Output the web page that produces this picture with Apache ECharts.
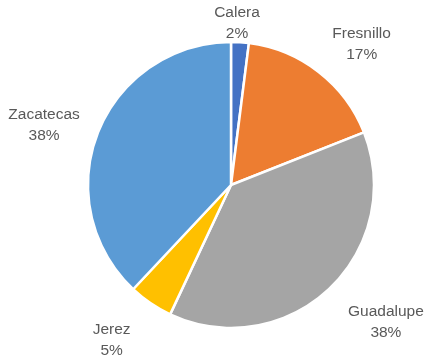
<!DOCTYPE html>
<html>
<head>
<meta charset="utf-8">
<script src="https://cdn.jsdelivr.net/npm/echarts@6/dist/echarts.min.js"></script>
<style>
  html, body { margin: 0; padding: 0; background: #ffffff; }
  #chart { width: 426px; height: 364px; }
</style>
</head>
<body>
<div id="chart"></div>
<script>
// Share of each municipality, in percent
const categories = ['Calera', 'Fresnillo', 'Guadalupe', 'Jerez', 'Zacatecas'];
const shares = [2, 17, 38, 5, 38];

// Slice colours (Office palette)
const sliceColors = ['#4472C4', '#ED7D31', '#A5A5A5', '#FFC000', '#5B9BD5'];

// Label nudges from the slice's outer edge point, in pixels
const labelNudge = [[-3, -19], [43, -28], [57, 33], [-39, 37], [-54, -7]];

const chart = echarts.init(document.getElementById('chart'), null, { renderer: 'canvas' });

chart.setOption({
  animation: false,
  backgroundColor: '#ffffff',
  series: [{
    type: 'pie',
    center: [231, 185],
    radius: [0, 143],
    startAngle: 90,
    clockwise: true,
    avoidLabelOverlap: false,
    data: categories.map((name, i) => ({
      name: name,
      value: shares[i],
      itemStyle: { color: sliceColors[i] }
    })),
    itemStyle: { borderColor: '#ffffff', borderWidth: 2.5 },
    label: {
      show: true,
      position: 'outside',
      formatter: p => p.name + '\n' + p.value + '%',
      fontFamily: 'Liberation Sans',
      fontSize: 15.5,
      lineHeight: 21,
      color: '#595959',
      align: 'center'
    },
    labelLine: { show: false, length: 0, length2: 0 },
    labelLayout: function (params) {
      const p0 = params.labelLinePoints ? params.labelLinePoints[0] : null;
      if (!p0) return {};
      const n = labelNudge[params.dataIndex];
      return {
        x: p0[0] + n[0],
        y: p0[1] + n[1],
        align: 'center',
        verticalAlign: 'middle'
      };
    },
    emphasis: { disabled: true }
  }]
});
</script>
</body>
</html>
